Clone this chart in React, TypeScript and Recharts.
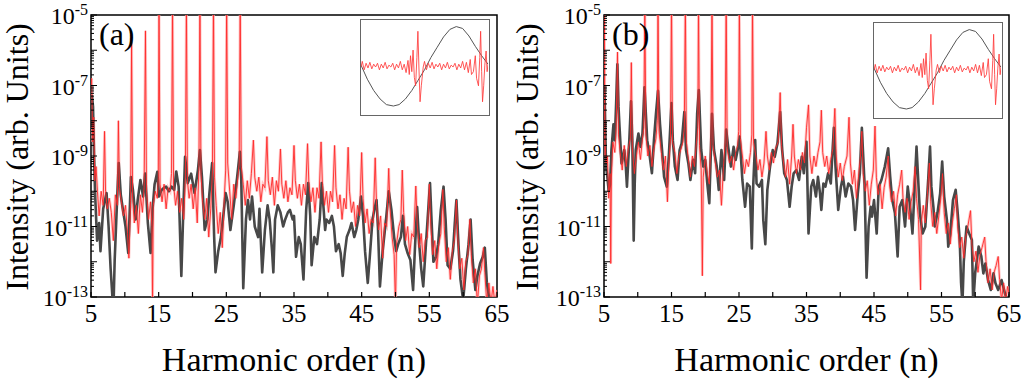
import { LineChart, Line, XAxis, YAxis, ReferenceArea } from 'recharts';

// harmonic order n, log10 of intensity
const blackA: number[][] = [
  [5.0, -8.2], [5.15, -7.3], [5.3, -7.6], [5.45, -9.0], [5.6, -10.05], [5.9, -11.4], [6.2, -10.9], [6.4, -11.7],
  [6.8, -10.5], [7.3, -10.05], [7.6, -11.0], [7.9, -12.2], [8.2, -13.1], [8.35, -13.1], [8.5, -11.95], [8.9, -10.05],
  [9.1, -9.2], [9.4, -10.1], [9.7, -10.5], [10.1, -11.0], [10.5, -11.75], [10.9, -9.6], [11.2, -9.96], [11.6, -10.8],
  [11.9, -10.25], [12.3, -9.68], [12.7, -10.15], [13.0, -9.5], [13.4, -10.9], [13.8, -11.75], [14.1, -10.5], [14.4, -9.8],
  [14.8, -9.45], [15.05, -10.15], [15.4, -9.97], [15.8, -9.9], [16.1, -9.87], [16.5, -10.0], [16.9, -9.87], [17.3, -9.96],
  [17.6, -9.44], [17.95, -9.87], [18.35, -12.4], [18.65, -10.5], [18.9, -9.02], [19.3, -9.77], [19.8, -9.5], [20.3, -10.05],
  [20.8, -9.4], [21.1, -8.83], [21.4, -9.6], [21.8, -11.1], [22.2, -10.8], [22.5, -10.05], [22.9, -9.2], [23.2, -11.3],
  [23.4, -12.3], [23.8, -11.7], [24.2, -11.3], [24.5, -10.8], [24.9, -10.05], [25.2, -10.3], [25.6, -11.1], [26.1, -10.4],
  [26.6, -9.6], [27.0, -8.88], [27.2, -9.6], [27.5, -12.75], [27.9, -10.8], [28.2, -10.25], [28.5, -10.8], [28.8, -10.15],
  [29.2, -11.0], [29.7, -11.3], [29.9, -10.5], [30.3, -12.3], [30.7, -11.1], [31.1, -10.4], [31.4, -10.8], [31.75, -11.67],
  [31.95, -12.3], [32.2, -10.8], [32.6, -10.4], [33.0, -10.6], [33.4, -11.0], [33.7, -10.8], [34.1, -10.6], [34.4, -10.53],
  [34.8, -10.8], [35.0, -10.7], [35.3, -11.86], [35.7, -11.3], [36.0, -11.5], [36.4, -12.5], [36.8, -10.53], [37.1, -9.77],
  [37.4, -10.7], [37.6, -12.1], [38.0, -11.3], [38.4, -11.5], [38.8, -10.8], [39.1, -9.77], [39.3, -10.3], [39.6, -11.1],
  [39.8, -10.8], [40.2, -10.9], [40.6, -10.7], [40.9, -11.0], [41.2, -11.7], [41.6, -11.5], [41.9, -11.76], [42.2, -12.4],
  [42.5, -11.76], [42.8, -11.3], [43.2, -11.1], [43.5, -10.9], [43.9, -11.3], [44.2, -11.1], [44.5, -10.8], [44.9, -10.15],
  [45.2, -10.7], [45.5, -11.7], [45.9, -12.6], [46.2, -11.86], [46.6, -10.8], [46.9, -10.5], [47.2, -10.25], [47.4, -11.0],
  [47.7, -12.7], [48.1, -11.7], [48.6, -10.8], [49.0, -10.0], [49.4, -10.53], [49.8, -11.3], [50.1, -11.7], [50.4, -11.5],
  [50.8, -11.3], [51.1, -10.7], [51.4, -11.5], [51.8, -11.76], [52.2, -11.95], [52.6, -12.8], [52.9, -11.5], [53.2, -10.45],
  [53.5, -11.5], [53.8, -12.2], [54.1, -12.7], [54.5, -11.5], [54.9, -10.35], [55.1, -9.77], [55.3, -10.7], [55.6, -12.0],
  [56.0, -11.86], [56.3, -11.5], [56.7, -10.53], [57.1, -9.87], [57.4, -10.8], [57.7, -12.1], [58.1, -12.2], [58.5, -11.7],
  [58.8, -10.8], [59.0, -10.25], [59.3, -11.5], [59.6, -12.5], [60.0, -13.1], [60.4, -12.2], [60.8, -11.5], [61.1, -10.8],
  [61.4, -11.95], [61.8, -12.8], [62.1, -12.4], [62.5, -12.05], [62.9, -11.86], [63.2, -11.6], [63.5, -12.6], [63.9, -13.1],
  [65.0, -13.1],
];

const redA: number[][] = [
  [5.0, -7.0], [5.1, -6.8], [5.25, -8.6], [5.4, -7.9], [5.55, -9.7], [5.75, -9.3], [5.95, -10.0], [6.2, -10.7],
  [6.5, -10.0], [6.8, -10.4], [7.0, -8.3], [7.15, -10.0], [7.4, -10.5], [7.7, -10.2], [8.0, -10.6], [8.3, -11.4],
  [8.6, -10.1], [8.9, -10.4], [9.05, -8.0], [9.2, -9.9], [9.5, -10.3], [9.8, -10.7], [10.1, -10.4], [10.4, -11.2],
  [10.6, -11.9], [10.85, -10.3], [11.0, -5.75], [11.15, -10.2], [11.4, -10.9], [11.7, -10.4], [12.0, -11.2], [12.3, -10.1],
  [12.6, -10.6], [12.85, -9.9], [13.05, -5.45], [13.2, -10.0], [13.5, -10.8], [13.8, -10.3], [14.0, -11.0], [14.1, -13.3],
  [14.2, -10.4], [14.5, -10.0], [14.8, -10.2], [14.95, -9.6], [15.05, -4.5], [15.2, -9.8], [15.5, -10.3], [15.8, -9.8],
  [16.1, -10.5], [16.4, -9.9], [16.7, -10.0], [16.9, -9.5], [17.05, -4.5], [17.2, -9.8], [17.5, -10.4], [17.8, -10.0],
  [18.1, -10.6], [18.4, -10.2], [18.7, -10.8], [18.95, -9.6], [19.1, -4.5], [19.25, -9.7], [19.5, -10.2], [19.8, -9.8],
  [20.1, -10.5], [20.4, -9.9], [20.7, -10.9], [20.95, -9.3], [21.1, -4.5], [21.25, -9.5], [21.5, -10.3], [21.8, -10.8],
  [22.1, -10.2], [22.4, -11.3], [22.7, -10.5], [22.95, -9.4], [23.1, -4.5], [23.25, -9.6], [23.5, -10.4], [23.8, -11.2],
  [24.1, -10.6], [24.4, -11.6], [24.7, -10.2], [24.9, -9.4], [25.05, -4.5], [25.2, -9.2], [25.5, -10.0], [25.8, -10.8],
  [26.1, -9.8], [26.4, -10.2], [26.7, -9.6], [26.9, -9.2], [27.05, -4.5], [27.2, -9.3], [27.5, -9.8], [27.8, -10.4],
  [28.1, -9.7], [28.4, -10.2], [28.7, -9.5], [29.0, -8.55], [29.2, -9.6], [29.5, -10.0], [29.8, -9.6], [30.1, -10.3],
  [30.4, -9.8], [30.7, -9.9], [31.0, -8.45], [31.2, -9.7], [31.5, -10.1], [31.8, -9.6], [32.1, -10.4], [32.4, -9.7],
  [32.7, -10.0], [33.0, -8.8], [33.2, -9.8], [33.5, -10.2], [33.8, -9.7], [34.1, -10.3], [34.4, -9.9], [34.7, -10.1],
  [35.0, -8.7], [35.2, -9.7], [35.5, -10.2], [35.8, -9.8], [36.1, -10.4], [36.4, -9.8], [36.7, -10.1], [37.0, -8.65],
  [37.2, -9.8], [37.5, -10.3], [37.8, -9.9], [38.1, -10.6], [38.4, -9.9], [38.7, -10.2], [39.0, -8.6], [39.2, -9.8],
  [39.5, -10.4], [39.8, -10.0], [40.1, -10.6], [40.4, -10.0], [40.7, -10.3], [41.0, -8.7], [41.2, -9.9], [41.5, -10.5],
  [41.8, -10.1], [42.1, -10.8], [42.4, -10.2], [42.7, -10.5], [43.0, -8.75], [43.2, -10.0], [43.5, -10.6], [43.8, -10.3],
  [44.1, -11.0], [44.4, -10.4], [44.7, -10.7], [45.0, -8.9], [45.2, -10.2], [45.5, -10.9], [45.8, -10.5], [46.1, -11.2],
  [46.4, -10.8], [46.7, -10.9], [47.0, -9.05], [47.2, -10.4], [47.5, -11.1], [47.8, -10.7], [48.1, -11.9], [48.4, -10.9],
  [48.7, -11.0], [49.0, -9.35], [49.2, -10.5], [49.5, -11.3], [49.8, -11.8], [50.0, -13.3], [50.15, -11.5], [50.5, -11.0],
  [50.8, -10.8], [51.0, -9.4], [51.2, -10.6], [51.5, -11.4], [51.8, -11.0], [52.1, -11.8], [52.4, -11.2], [52.7, -11.3],
  [53.0, -9.85], [53.2, -10.9], [53.5, -11.6], [53.8, -11.2], [54.1, -12.0], [54.4, -11.4], [54.7, -11.3], [55.0, -9.8],
  [55.2, -10.9], [55.5, -11.8], [55.8, -11.4], [56.1, -12.2], [56.4, -11.5], [56.7, -11.2], [57.0, -9.95], [57.2, -11.0],
  [57.5, -12.0], [57.8, -11.6], [58.1, -12.5], [58.4, -11.7], [58.7, -11.4], [59.0, -10.25], [59.2, -11.3], [59.5, -12.2],
  [59.8, -11.9], [60.1, -12.8], [60.4, -12.0], [60.7, -11.8], [61.0, -10.8], [61.2, -11.8], [61.5, -12.6], [61.8, -12.2],
  [62.1, -13.2], [62.4, -12.4], [62.7, -12.2], [63.0, -11.6], [63.2, -12.3], [63.5, -13.2], [63.8, -12.6], [64.1, -13.2],
  [64.4, -12.7], [64.7, -13.2], [65.0, -12.8],
];

const blackB: number[][] = [
  [5.0, -7.0], [5.1, -7.4], [5.3, -9.3], [5.5, -9.6], [5.7, -10.0], [5.9, -9.8], [6.1, -8.83], [6.4, -8.1],
  [6.6, -8.55], [6.8, -7.5], [6.98, -6.4], [7.15, -7.6], [7.3, -8.17], [7.6, -9.21], [8.0, -8.83], [8.2, -9.2],
  [8.4, -9.87], [8.75, -8.55], [9.0, -7.45], [9.2, -8.6], [9.4, -11.4], [9.55, -9.8], [9.7, -8.83], [10.1, -8.36],
  [10.4, -8.74], [10.7, -8.36], [11.0, -7.05], [11.2, -7.8], [11.4, -8.55], [11.7, -8.9], [12.1, -9.49], [12.4, -8.55],
  [12.7, -7.8], [13.0, -7.15], [13.3, -8.1], [13.6, -8.83], [13.9, -9.59], [14.3, -9.87], [14.6, -9.02], [15.0, -7.5],
  [15.2, -8.55], [15.5, -9.3], [15.9, -9.68], [16.2, -8.83], [16.5, -8.64], [16.9, -7.75], [17.15, -8.83], [17.5, -9.21],
  [17.8, -9.68], [18.2, -9.11], [18.5, -9.49], [18.8, -7.8], [19.05, -7.13], [19.4, -8.83], [19.7, -9.3], [20.0, -9.11],
  [20.3, -9.78], [20.6, -10.34], [21.0, -7.8], [21.3, -8.83], [21.7, -9.3], [22.0, -9.96], [22.4, -8.83], [22.8, -9.68],
  [23.1, -8.25], [23.4, -8.74], [23.8, -9.3], [24.2, -8.74], [24.5, -9.11], [24.8, -8.83], [25.1, -8.45], [25.5, -9.68],
  [25.9, -10.44], [26.2, -9.78], [26.6, -9.87], [26.9, -11.62], [27.1, -9.87], [27.4, -8.55], [27.6, -9.78], [28.0, -9.87],
  [28.4, -9.68], [28.6, -10.82], [28.9, -11.5], [29.2, -9.96], [29.6, -9.3], [30.0, -8.83], [30.3, -9.02], [30.7, -8.64],
  [31.1, -7.75], [31.4, -8.83], [31.7, -9.49], [32.1, -9.68], [32.5, -10.44], [32.8, -9.87], [33.1, -9.49], [33.5, -9.4],
  [33.9, -9.68], [34.3, -9.02], [34.6, -9.49], [34.8, -9.02], [35.0, -8.6], [35.3, -11.2], [35.7, -9.87], [36.0, -9.68],
  [36.4, -10.15], [36.7, -9.59], [37.0, -10.06], [37.2, -10.53], [37.5, -9.78], [37.8, -9.87], [38.2, -9.49], [38.6, -9.78],
  [39.05, -8.2], [39.3, -9.3], [39.7, -10.53], [40.1, -9.87], [40.4, -9.59], [40.8, -10.15], [41.2, -9.78], [41.6, -9.87],
  [41.9, -10.25], [42.2, -11.1], [42.6, -10.06], [42.9, -9.49], [43.2, -8.2], [43.6, -9.78], [43.9, -12.45], [44.2, -11.0],
  [44.5, -10.44], [44.7, -10.72], [45.0, -10.25], [45.4, -11.2], [45.7, -9.87], [46.1, -9.68], [46.6, -9.3], [47.1, -8.78],
  [47.4, -9.59], [47.7, -10.25], [48.1, -10.62], [48.5, -11.85], [48.8, -10.44], [49.2, -10.25], [49.6, -11.0], [50.0, -9.87],
  [50.3, -10.35], [50.7, -11.2], [51.0, -9.96], [51.3, -8.73], [51.6, -9.87], [51.8, -10.62], [52.2, -11.2], [52.6, -11.01],
  [53.0, -9.78], [53.3, -8.73], [53.5, -9.87], [53.8, -10.44], [54.0, -11.0], [54.4, -10.62], [54.8, -10.06], [55.1, -9.16],
  [55.4, -10.15], [55.8, -10.81], [56.0, -11.57], [56.3, -11.2], [56.7, -10.25], [57.1, -9.96], [57.4, -10.62], [57.7, -11.38],
  [57.9, -12.6], [58.1, -13.2], [58.3, -12.0], [58.7, -11.0], [59.1, -11.2], [59.5, -11.38], [59.7, -13.2], [60.0, -12.3],
  [60.5, -11.57], [60.9, -11.85], [61.2, -12.33], [61.5, -12.05], [61.9, -12.52], [62.3, -12.8], [62.7, -12.33], [63.0, -12.61],
  [63.4, -12.8], [63.9, -12.52], [64.4, -12.9], [65.0, -13.2],
];

const redB: number[][] = [
  [5.0, -9.0], [5.05, -4.5], [5.15, -8.5], [5.3, -9.2], [5.5, -9.0], [5.7, -10.2], [5.9, -9.5], [6.0, -12.05],
  [6.1, -9.6], [6.3, -8.6], [6.6, -8.9], [6.8, -8.2], [7.0, -6.05], [7.15, -8.4], [7.4, -8.9], [7.7, -9.4],
  [8.0, -8.7], [8.3, -9.3], [8.6, -8.8], [8.9, -8.5], [9.05, -6.35], [9.2, -8.8], [9.5, -9.5], [9.8, -9.0],
  [10.1, -8.6], [10.4, -9.1], [10.7, -8.5], [10.9, -8.2], [11.05, -4.5], [11.2, -8.4], [11.5, -9.0], [11.8, -8.7],
  [12.1, -9.3], [12.4, -8.8], [12.7, -8.5], [12.9, -8.0], [13.0, -4.5], [13.15, -8.3], [13.5, -8.9], [13.8, -9.4],
  [14.1, -9.0], [14.4, -10.3], [14.6, -9.2], [14.85, -8.5], [15.0, -4.5], [15.15, -8.6], [15.5, -8.9], [15.8, -9.5],
  [16.1, -9.0], [16.4, -8.8], [16.7, -8.6], [16.9, -8.2], [17.05, -4.5], [17.2, -8.6], [17.5, -9.1], [17.8, -9.6],
  [18.1, -9.0], [18.4, -9.3], [18.7, -8.6], [18.9, -8.2], [19.0, -4.5], [19.15, -8.7], [19.4, -9.4], [19.57, -12.4],
  [19.7, -9.6], [20.0, -9.0], [20.3, -9.5], [20.6, -9.8], [20.85, -8.5], [21.0, -4.5], [21.15, -8.7], [21.5, -9.2],
  [21.8, -9.6], [22.1, -9.4], [22.4, -10.4], [22.7, -9.3], [22.95, -8.6], [23.1, -4.5], [23.25, -8.8], [23.6, -9.2],
  [23.9, -9.0], [24.2, -9.4], [24.5, -8.9], [24.8, -8.7], [24.95, -8.3], [25.05, -4.5], [25.2, -8.5], [25.5, -9.0],
  [25.8, -9.5], [26.1, -9.1], [26.4, -9.3], [26.7, -8.9], [26.9, -8.4], [27.0, -4.5], [27.15, -8.6], [27.5, -9.0],
  [27.8, -9.4], [28.1, -9.1], [28.4, -9.6], [28.7, -9.2], [29.0, -8.3], [29.2, -9.0], [29.5, -9.4], [29.8, -8.9],
  [30.1, -9.2], [30.4, -8.8], [30.8, -8.6], [31.1, -7.2], [31.3, -8.7], [31.6, -9.2], [31.9, -9.6], [32.2, -9.1],
  [32.5, -9.8], [32.8, -9.0], [33.0, -8.1], [33.2, -9.0], [33.5, -9.5], [33.8, -9.1], [34.1, -9.4], [34.4, -8.9],
  [34.7, -9.2], [35.0, -8.2], [35.3, -7.55], [35.5, -9.0], [35.8, -9.5], [36.1, -9.0], [36.4, -9.3], [36.7, -8.9],
  [37.0, -8.6], [37.2, -7.7], [37.4, -8.9], [37.7, -9.3], [38.0, -9.0], [38.3, -9.5], [38.6, -9.1], [38.9, -8.8],
  [39.2, -7.65], [39.4, -9.0], [39.7, -9.6], [40.0, -9.2], [40.3, -9.7], [40.6, -9.3], [41.0, -9.0], [41.3, -7.9],
  [41.5, -9.2], [41.8, -9.8], [42.1, -9.4], [42.4, -10.2], [42.7, -9.6], [43.0, -9.0], [43.2, -8.3], [43.4, -9.5],
  [43.7, -10.0], [44.0, -9.7], [44.3, -10.4], [44.6, -9.8], [44.9, -9.4], [45.15, -8.15], [45.35, -9.6], [45.6, -10.1],
  [45.9, -9.8], [46.2, -10.5], [46.5, -9.9], [46.8, -9.6], [47.1, -9.0], [47.3, -9.8], [47.6, -10.3], [47.9, -10.0],
  [48.2, -10.7], [48.5, -10.1], [48.8, -9.8], [49.1, -9.4], [49.3, -10.2], [49.6, -10.6], [49.9, -10.2], [50.2, -10.8],
  [50.5, -10.3], [50.8, -10.0], [51.1, -9.3], [51.3, -10.2], [51.6, -10.8], [51.9, -12.8], [52.0, -10.9], [52.3, -10.4],
  [52.6, -10.9], [52.9, -10.1], [53.2, -9.2], [53.4, -10.3], [53.7, -11.0], [54.0, -10.6], [54.3, -11.2], [54.6, -10.7],
  [54.9, -10.2], [55.15, -9.5], [55.4, -10.6], [55.7, -11.2], [56.0, -10.9], [56.3, -11.5], [56.6, -10.9], [56.9, -10.5],
  [57.2, -10.1], [57.4, -11.0], [57.7, -11.6], [58.0, -11.3], [58.3, -11.9], [58.6, -11.3], [58.9, -11.0], [59.3, -10.55],
  [59.5, -11.5], [59.8, -12.0], [60.1, -11.7], [60.4, -12.3], [60.7, -11.8], [61.0, -11.6], [61.4, -11.3], [61.6, -12.0],
  [61.9, -12.6], [62.2, -12.2], [62.5, -12.8], [62.8, -12.3], [63.1, -12.1], [63.4, -11.85], [63.6, -12.5], [63.9, -13.1],
  [64.2, -12.6], [64.5, -13.1], [64.8, -12.7], [65.0, -12.9],
];

// inset: normalised time (0..1) and normalised amplitude (0..1)
const insetField: number[][] = [
  [0, 0.52], [0.05, 0.37], [0.1, 0.25], [0.15, 0.16], [0.2, 0.1], [0.255, 0.085], [0.3, 0.1], [0.35, 0.16],
  [0.4, 0.25], [0.45, 0.36], [0.5, 0.47], [0.55, 0.6], [0.6, 0.71], [0.65, 0.82], [0.7, 0.9], [0.75, 0.93],
  [0.8, 0.91], [0.85, 0.83], [0.9, 0.72], [0.95, 0.62], [1, 0.53],
];

const insetCurrent: number[][] = [
  [0, 0.5], [0.01, 0.56], [0.025, 0.47], [0.04, 0.54], [0.055, 0.49], [0.07, 0.55], [0.085, 0.48], [0.1, 0.53],
  [0.115, 0.5], [0.13, 0.54], [0.145, 0.47], [0.16, 0.53], [0.175, 0.49], [0.19, 0.55], [0.205, 0.48], [0.22, 0.52],
  [0.235, 0.5], [0.25, 0.54], [0.265, 0.47], [0.28, 0.53], [0.295, 0.49], [0.31, 0.56], [0.325, 0.47], [0.34, 0.53],
  [0.355, 0.44], [0.37, 0.57], [0.38, 0.42], [0.39, 0.62], [0.4, 0.45], [0.41, 0.68], [0.42, 0.39], [0.43, 0.3],
  [0.44, 0.6], [0.448, 0.88], [0.456, 0.5], [0.465, 0.13], [0.475, 0.3], [0.49, 0.5], [0.5, 0.56], [0.515, 0.47],
  [0.53, 0.54], [0.545, 0.49], [0.56, 0.55], [0.575, 0.48], [0.59, 0.53], [0.605, 0.5], [0.62, 0.54], [0.635, 0.47],
  [0.65, 0.53], [0.665, 0.49], [0.68, 0.55], [0.695, 0.48], [0.71, 0.52], [0.725, 0.5], [0.74, 0.54], [0.755, 0.47],
  [0.77, 0.53], [0.785, 0.49], [0.8, 0.56], [0.815, 0.47], [0.83, 0.55], [0.845, 0.44], [0.86, 0.58], [0.87, 0.42],
  [0.885, 0.45], [0.9, 0.62], [0.91, 0.38], [0.925, 0.3], [0.935, 0.6], [0.942, 0.88], [0.95, 0.45], [0.957, 0.13],
  [0.966, 0.3], [0.975, 0.52], [0.985, 0.67], [0.993, 0.45], [1, 0.53],
];

const xTicks = [5, 10, 15, 20, 25, 30, 35, 40, 45, 50, 55, 60, 65];
const xLabels = [5, 15, 25, 35, 45, 55, 65];
const yLabels = [-13, -11, -9, -7, -5];
const decades = [-13, -12, -11, -10, -9, -8, -7, -6, -5];
const yTicks = decades.concat(
  decades.slice(0, -1).flatMap((d) => [2, 3, 4, 5, 6, 7, 8, 9].map((k) => d + Math.log10(k)))
);

const FONT = '"Liberation Serif", "Times New Roman", serif';

const pts = (arr: number[][]) => arr.map(([n, v]) => ({ n, v }));

const XTick = ({ x, y, payload }: any) => {
  const label = xLabels.includes(payload.value);
  return (
    <g>
      <line x1={x} x2={x} y1={y} y2={y - 5} stroke="#000" strokeWidth={1.2} />
      {label && (
        <text x={x} y={y + 25} textAnchor="middle" fontSize={25} fontFamily={FONT} fill="#000">
          {payload.value}
        </text>
      )}
    </g>
  );
};

const YTick = ({ x, y, payload }: any) => {
  const v = payload.value;
  const major = Number.isInteger(v);
  const label = yLabels.includes(v);
  return (
    <g>
      <line x1={x} x2={x + (major ? 6 : 3)} y1={y} y2={y} stroke="#000" strokeWidth={1} />
      {label && (
        <text x={x - 3} y={y + 9} textAnchor="end" fontFamily={FONT} fill="#000">
          <tspan fontSize={24}>10</tspan>
          <tspan fontSize={16} dy={-9}>{v}</tspan>
        </text>
      )}
    </g>
  );
};

const Inset = ({ left, top }: { left: number; top: number }) => (
  <div style={{ position: 'absolute', left, top, width: 130, height: 97, border: '1.5px solid #666', boxSizing: 'border-box', background: '#fff' }}>
    <LineChart width={127} height={94} margin={{ top: 0, right: 0, bottom: 0, left: 0 }}>
      <XAxis dataKey="t" type="number" domain={[0, 1]} hide />
      <YAxis type="number" domain={[0, 1]} hide />
      <Line data={insetField.map(([t, v]) => ({ t, v }))} dataKey="v" stroke="#555" strokeWidth={1} dot={false} isAnimationActive={false} />
      <Line data={insetCurrent.map(([t, v]) => ({ t, v }))} dataKey="v" stroke="#ff3b3b" strokeWidth={1} strokeOpacity={0.85} dot={false} isAnimationActive={false} />
    </LineChart>
  </div>
);

type PanelProps = {
  black: number[][];
  red: number[][];
  tag: string;
  left: number;
  width: number;
  axisWidth: number;
  marginRight: number;
  inset: [number, number];
};

const SpectrumPanel = ({ black, red, tag, left, width, axisWidth, marginRight, inset }: PanelProps) => {
  const plotLeft = left + axisWidth;
  const plotRight = left + width - marginRight;
  const mid = (plotLeft + plotRight) / 2;
  return (
    <>
      <div style={{ position: 'absolute', left, top: 0 }}>
        <LineChart width={width} height={380} margin={{ top: 15, right: marginRight, bottom: 0, left: 0 }}>
          <XAxis
            dataKey="n"
            type="number"
            domain={[5, 65]}
            ticks={xTicks}
            interval={0}
            allowDataOverflow
            height={83}
            axisLine={false}
            tickLine={false}
            tickSize={0}
            tickMargin={0}
            tick={<XTick />}
          />
          <YAxis
            type="number"
            domain={[-13, -5]}
            ticks={yTicks}
            interval={0}
            allowDataOverflow
            width={axisWidth}
            axisLine={false}
            tickLine={false}
            tickSize={0}
            tickMargin={0}
            tick={<YTick />}
          />
          <Line data={pts(red)} dataKey="v" stroke="#ffb4b4" strokeWidth={2.8} strokeOpacity={0.7} dot={false} isAnimationActive={false} />
          <Line data={pts(black)} dataKey="v" stroke="#484848" strokeWidth={2.6} strokeLinejoin="round" dot={false} isAnimationActive={false} />
          <Line data={pts(red)} dataKey="v" stroke="#ff2a2a" strokeWidth={1} strokeOpacity={0.9} dot={false} isAnimationActive={false} />
          <ReferenceArea x1={5} x2={65} y1={-13} y2={-5} fill="none" stroke="#000" strokeWidth={1.5} />
        </LineChart>
      </div>
      <div style={{ position: 'absolute', left: plotLeft + 8, top: 14, fontFamily: FONT, fontSize: 32, lineHeight: '40px' }}>{tag}</div>
      <Inset left={inset[0]} top={inset[1]} />
      <div
        style={{
          position: 'absolute',
          left: left + 17,
          top: 157,
          transform: 'translate(-50%, -50%) rotate(-90deg)',
          whiteSpace: 'nowrap',
          fontFamily: FONT,
          fontSize: 32,
          lineHeight: '32px',
        }}
      >
        Intensity (arb. Units)
      </div>
      <div
        style={{
          position: 'absolute',
          left: mid,
          top: 360,
          transform: 'translate(-50%, -50%)',
          whiteSpace: 'nowrap',
          fontFamily: FONT,
          fontSize: 34,
          lineHeight: '38px',
        }}
      >
        Harmonic order (n)
      </div>
    </>
  );
};

export default function App() {
  return (
    <div style={{ position: 'absolute', left: 0, top: 0, width: 1021, height: 380, background: '#fff', overflow: 'hidden' }}>
      <SpectrumPanel black={blackA} red={redA} tag="(a)" left={0} width={510} axisWidth={91} marginRight={13} inset={[360, 19]} />
      <SpectrumPanel black={blackB} red={redB} tag="(b)" left={510} width={511} axisWidth={94} marginRight={12} inset={[873, 22]} />
    </div>
  );
}
